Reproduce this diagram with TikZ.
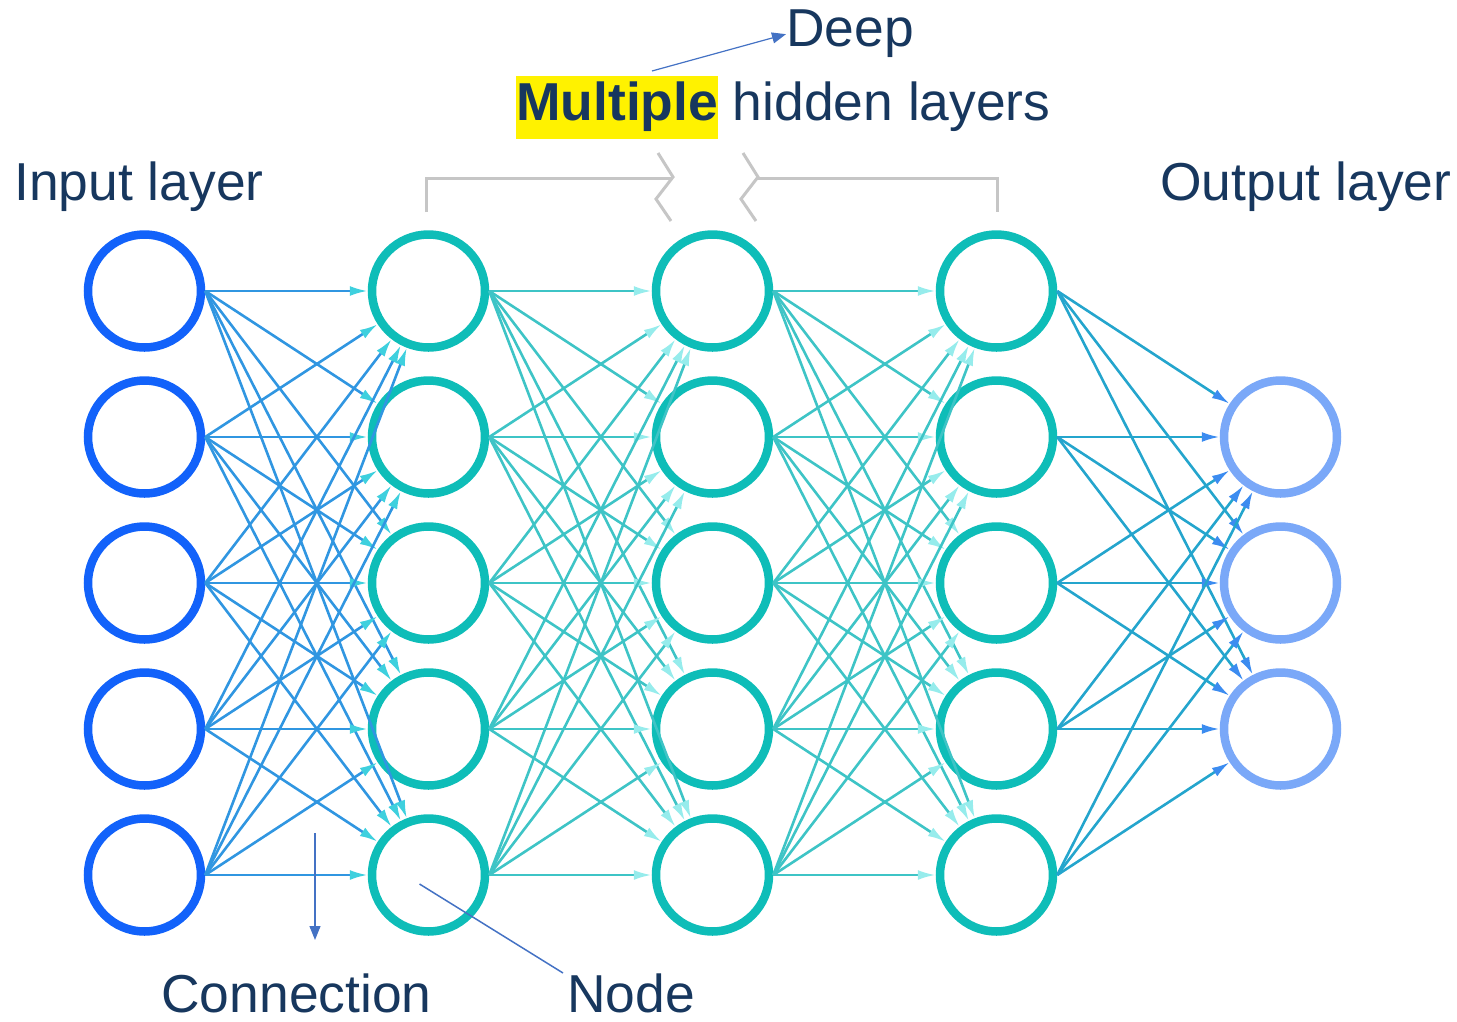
\documentclass[tikz,border=0pt]{standalone}
\usepackage{fontspec}
\setmainfont{Liberation Sans}
\usetikzlibrary{arrows.meta,positioning,calc,matrix}
\definecolor{navy}{RGB}{23,55,94}
\definecolor{inblue}{RGB}{18,98,250}
\definecolor{hidteal}{RGB}{14,189,184}
\definecolor{outblue}{RGB}{122,168,248}
\definecolor{edgeA}{RGB}{48,150,225}
\definecolor{tipA}{RGB}{62,208,222}
\definecolor{edgeB}{RGB}{62,196,198}
\definecolor{tipB}{RGB}{150,236,236}
\definecolor{edgeC}{RGB}{36,165,205}
\definecolor{tipC}{RGB}{60,140,240}
\definecolor{callblue}{RGB}{68,114,196}
\definecolor{bracketgray}{RGB}{198,198,198}
\tikzset{
  neuron/.style={circle,draw,fill=white,minimum size=56.5pt,line width=4.25pt,inner sep=0pt},
  lbl/.style={font=\fontsize{26.7}{32}\selectfont,text=navy,inner sep=0pt},
  hilite/.style={lbl,fill=yellow,inner xsep=0pt,inner ysep=3.25pt},
  inedge/.style={-{Latex[length=9pt,width=5pt,color=tipA]},line width=1.3pt,draw=edgeA},
  hidedge/.style={-{Latex[length=9pt,width=5pt,color=tipB]},line width=1.3pt,draw=edgeB},
  outedge/.style={-{Latex[length=9pt,width=5pt,color=tipC]},line width=1.3pt,draw=edgeC},
  pointer/.style={-{Triangle[length=7pt,width=5.5pt]},line width=0.6pt,draw=callblue},
  pointline/.style={line width=0.75pt,draw=callblue},
  bracket/.style={line width=1.5pt,draw=bracketgray}
}
\begin{document}
\begin{tikzpicture}[x=0.5pt,y=-0.5pt]
\useasboundingbox (0,0) rectangle (1457,1022);
\matrix[matrix of nodes,row sep=12.25pt,column sep=81.25pt,nodes={neuron},ampersand replacement=\&,
  column 1/.style={nodes={draw=inblue}},
  column 2/.style={nodes={draw=hidteal}},
  column 3/.style={nodes={draw=hidteal}},
  column 4/.style={nodes={draw=hidteal}},
  column 5/.style={nodes={draw=outblue}}] (net) at (712.5,583) {
{} \& {} \& {} \& {} \& \\
{} \& {} \& {} \& {} \& {} \\
{} \& {} \& {} \& {} \& {} \\
{} \& {} \& {} \& {} \& {} \\
{} \& {} \& {} \& {} \& \\
};
% connections
\foreach \i in {1,...,5}
  \foreach \j in {1,...,5} {
    \draw[inedge] (net-\i-1.east) -- (net-\j-2);
    \draw[hidedge] (net-\i-2.east) -- (net-\j-3);
    \draw[hidedge] (net-\i-3.east) -- (net-\j-4);
  }
\foreach \i in {1,...,5}
  \foreach \j in {2,3,4}
    \draw[outedge] (net-\i-4.east) -- (net-\j-5);
% labels
\node[lbl,anchor=base west] (inlayer) at (14,200) {Input layer};
\node[lbl,anchor=base west] (outlayer) at (1160,200) {Output layer};
\node[hilite,anchor=base west] (multi) at (516,121) {\textbf{Multiple}};
\node[lbl,base right=7pt of multi] (hidden) {hidden layers};
\node[lbl,anchor=base west] (deep) at (786,47) {Deep};
\node[lbl,anchor=base west] (conn) at (161,1012) {Connection};
\node[lbl,anchor=base west] (nodelbl) at (567,1012) {Node};
% bracket over the hidden layers
\draw[bracket] (426,212) -- (426,179) -- (672,179);
\draw[bracket] (658,153) -- (673,177) -- (656,199) -- (671,221);
\draw[bracket] (743,153) -- (758,177) -- (741,199) -- (756,221);
\draw[bracket] (758,179) -- (997,179) -- (997,212);
% callouts
\coordinate (deeptail) at (652,71);
\coordinate (conntop) at (315,833);
\coordinate (connend) at (315,940);
\coordinate (nodetip) at (563,973);
\draw[pointer] (deeptail) -- (deep.west);
\draw[pointer] (conntop) -- (connend);
\draw[pointline] ($(net-5-2.center)+(-9,9)$) -- (nodetip);
\end{tikzpicture}
\end{document}
